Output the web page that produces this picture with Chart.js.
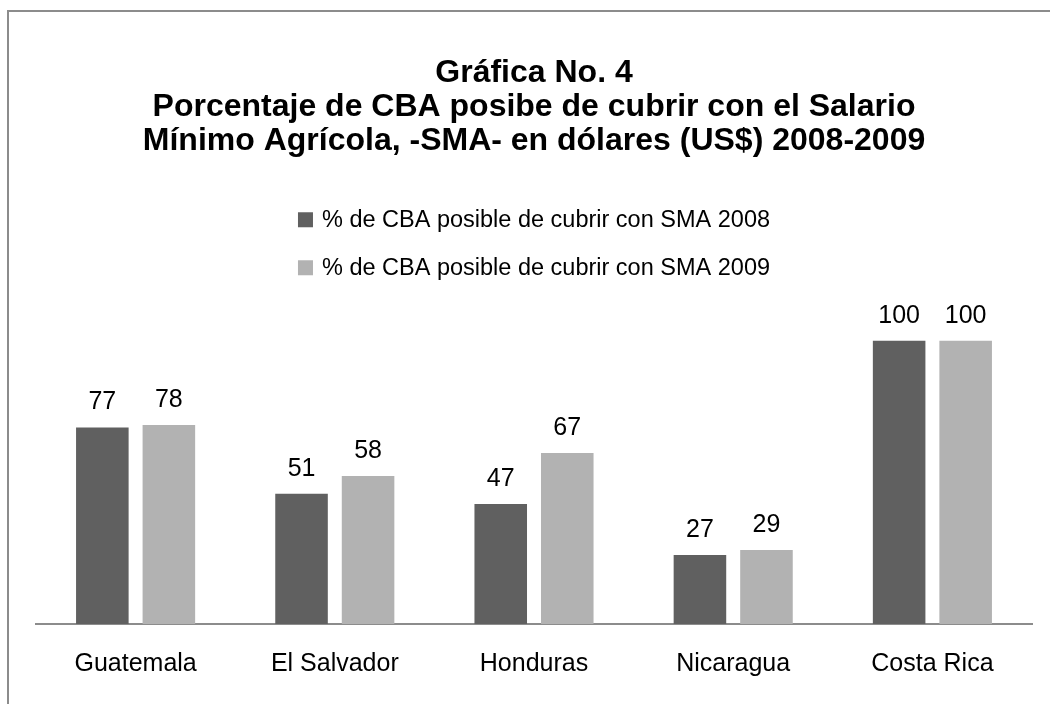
<!DOCTYPE html>
<html>
<head>
<meta charset="utf-8">
<script src="https://cdn.jsdelivr.net/npm/chart.js@4"></script>
<style>
  html, body { margin: 0; padding: 0; background: #fff; overflow: hidden; }
  #wrap { position: relative; width: 1050px; height: 704px; }
  #frame {
    position: absolute; left: 7px; top: 10px; width: 1200px; height: 900px;
    border: 2px solid #8c8c8c; box-sizing: border-box; pointer-events: none;
  }
  canvas { position: absolute; left: 0; top: 0; }
</style>
</head>
<body>
<div id="wrap">
  <canvas id="chart" width="1050" height="704"></canvas>
  <div id="frame"></div>
</div>
<script>
// DATA
const countries = ["Guatemala", "El Salvador", "Honduras", "Nicaragua", "Costa Rica"];
// bar heights as drawn (Costa Rica bar is taller than its printed label)
const sma2008 = [77, 51, 47, 27, 111];
const sma2009 = [78, 58, 67, 29, 111];
// numbers printed above the bars
const labels2008 = ["77", "51", "47", "27", "100"];
const labels2009 = ["78", "58", "67", "29", "100"];
const seriesNames = [
  "% de CBA posible de cubrir con SMA 2008",
  "% de CBA posible de cubrir con SMA 2009",
];
const titleLines = [
  "Gráfica No. 4",
  "Porcentaje de CBA posibe de cubrir con el Salario",
  "Mínimo Agrícola, -SMA- en dólares (US$) 2008-2009",
];

const FONT = '"Liberation Sans", Arial, sans-serif';

// numbers above bars
const barLabels = {
  id: "barLabels",
  afterDatasetsDraw(chart) {
    const ctx = chart.ctx;
    ctx.save();
    ctx.font = "25px " + FONT;
    ctx.fillStyle = "#000";
    ctx.textAlign = "center";
    ctx.textBaseline = "alphabetic";
    chart.data.datasets.forEach((ds, i) => {
      chart.getDatasetMeta(i).data.forEach((bar, j) => {
        ctx.fillText(ds.valueLabels[j], bar.x, bar.y - 18);
      });
    });
    ctx.restore();
  },
};

// stacked legend, one series per row
const stackedLegend = {
  id: "stackedLegend",
  afterDraw(chart) {
    const ctx = chart.ctx;
    const area = chart.chartArea;
    const cx = (area.left + area.right) / 2;
    ctx.save();
    ctx.font = "23.5px " + FONT;
    ctx.textBaseline = "middle";
    ctx.textAlign = "left";
    chart.data.datasets.forEach((ds, i) => {
      const w = ctx.measureText(ds.label).width;
      const box = 15, gap = 9;
      const x0 = cx - (box + gap + w) / 2;
      const y = area.top - 98 + i * 48;
      ctx.fillStyle = ds.backgroundColor;
      ctx.fillRect(x0, y - box / 2, box, box);
      ctx.fillStyle = "#000";
      ctx.fillText(ds.label, x0 + box + gap, y + 1);
    });
    ctx.restore();
  },
};

new Chart(document.getElementById("chart"), {
  type: "bar",
  data: {
    labels: countries,
    datasets: [
      {
        label: seriesNames[0],
        data: sma2008,
        valueLabels: labels2008,
        backgroundColor: "#606060",
      },
      {
        label: seriesNames[1],
        data: sma2009,
        valueLabels: labels2009,
        backgroundColor: "#b2b2b2",
      },
    ],
  },
  options: {
    responsive: false,
    animation: false,
    categoryPercentage: 0.668,
    barPercentage: 0.79,
    layout: { padding: { left: 36, right: 18, top: 0, bottom: 0 } },
    plugins: {
      legend: { display: false },
      tooltip: { enabled: false },
      title: {
        display: true,
        text: titleLines,
        color: "#000",
        font: { family: FONT, size: 32, weight: "bold", lineHeight: 1.06 },
        padding: { top: 56, bottom: 160 },
      },
    },
    scales: {
      x: {
        grid: { display: false, drawTicks: false },
        border: { display: true, color: "#8c8c8c", width: 2 },
        ticks: { color: "#000", font: { family: FONT, size: 25 }, padding: 25 },
      },
      y: {
        display: false,
        min: 0,
        max: 120,
      },
    },
  },
  plugins: [barLabels, stackedLegend],
});
</script>
</body>
</html>
